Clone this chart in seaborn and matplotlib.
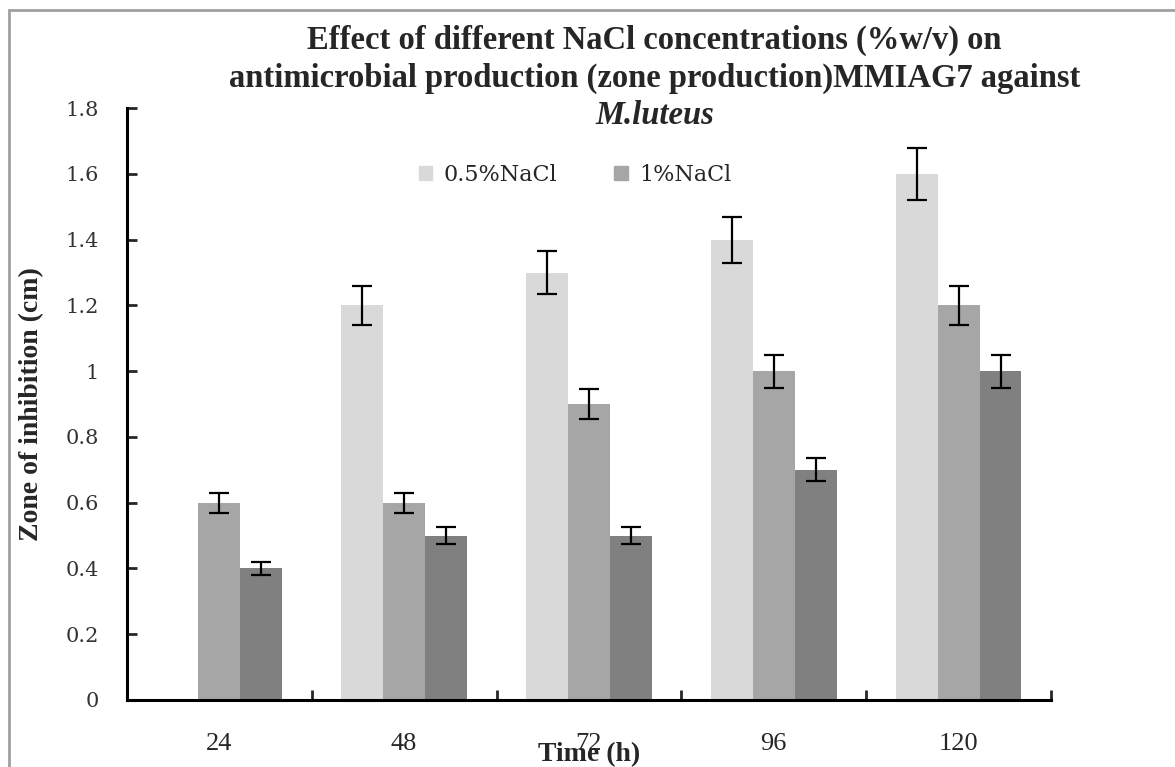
import numpy as np
import pandas as pd
import matplotlib
matplotlib.use("Agg")
import matplotlib.pyplot as plt
import matplotlib.patches as mpatches
import seaborn as sns

# valores
tiempos = ["24", "48", "72", "96", "120"]
series = ["0.5%NaCl", "1%NaCl", "serie 3"]
zona_05 = [0.0, 1.2, 1.3, 1.4, 1.6]
zona_1 = [0.6, 0.6, 0.9, 1.0, 1.2]
zona_3 = [0.4, 0.5, 0.5, 0.7, 1.0]
err_05 = [0.0, 0.06, 0.065, 0.07, 0.08]
err_1 = [0.03, 0.03, 0.045, 0.05, 0.06]
err_3 = [0.02, 0.025, 0.025, 0.035, 0.05]
colores = ["#D9D9D9", "#A6A6A6", "#808080"]

df = pd.DataFrame({
    "Time": tiempos * 3,
    "Zone": zona_05 + zona_1 + zona_3,
    "NaCl": [series[0]] * 5 + [series[1]] * 5 + [series[2]] * 5,
})
errores = [err_05, err_1, err_3]

sns.set_style("white")
plt.rcParams["font.family"] = ["Liberation Serif", "DejaVu Serif"]

fig = plt.figure(figsize=(11.75, 7.67), dpi=100)
ax = fig.add_axes([0.108, 0.0874, 0.7865, 0.7716])

sns.barplot(data=df, x="Time", y="Zone", hue="NaCl", order=tiempos, hue_order=series,
            palette=colores, width=0.68, errorbar=None, saturation=1, ax=ax, legend=False,
            linewidth=0, edgecolor="none")

for cont, errs in zip(ax.containers, errores):
    for barra, e in zip(cont, errs):
        if e > 0:
            xc = barra.get_x() + barra.get_width() / 2
            ax.errorbar(xc, barra.get_height(), yerr=e, color="black", lw=1.6,
                        capsize=7, capthick=1.6, fmt="none")

ax.set_ylim(0, 1.8)
ax.set_xlim(-0.5, 4.5)
ax.set_yticks(np.arange(0, 1.81, 0.2))
ax.set_yticklabels(["0", "0.2", "0.4", "0.6", "0.8", "1", "1.2", "1.4", "1.6", "1.8"],
                   fontfamily="DejaVu Serif", fontsize=15, color="#333333")
ax.tick_params(axis="y", direction="in", length=7, width=2, pad=20, left=True)

ax.set_xticks(np.arange(-0.5, 4.6, 1))
ax.set_xticklabels([""] * 6)
ax.tick_params(axis="x", which="major", direction="in", length=7, width=2, bottom=True)
ax.set_xticks(range(5), minor=True)
ax.set_xticklabels(tiempos, minor=True, fontsize=19)
ax.tick_params(axis="x", which="minor", length=0, pad=24)

for s in ["top", "right"]:
    ax.spines[s].set_visible(False)
for s in ["left", "bottom"]:
    ax.spines[s].set_linewidth(2.2)
    ax.spines[s].set_color("black")

ax.set_xlabel("Time (h)", fontsize=20, fontweight="bold")
ax.set_ylabel("Zone of inhibition (cm)", fontsize=20, fontweight="bold")
ax.xaxis.set_label_coords(0.5, -0.093)
ax.yaxis.set_label_coords(-0.103, 0.5)
ax.xaxis.label.set_va("center")
ax.yaxis.label.set_va("center")

# leyenda solo con las dos primeras series
handles = [mpatches.Patch(color=colores[0], label=series[0]),
           mpatches.Patch(color=colores[1], label=series[1])]
ax.legend(handles=handles, loc="upper left", bbox_to_anchor=(0.294, 0.94), ncol=2,
          frameon=False, handlelength=0.6, handleheight=0.6, columnspacing=2.6,
          handletextpad=0.5, prop={"family": "DejaVu Serif", "size": 16})

fig.text(0.557, 0.947, "Effect of different NaCl concentrations (%w/v) on",
         ha="center", va="center", fontsize=23.5, fontweight="bold")
fig.text(0.557, 0.898, "antimicrobial production (zone production)MMIAG7 against",
         ha="center", va="center", fontsize=23.5, fontweight="bold")
fig.text(0.557, 0.849, "M.luteus", ha="center", va="center", fontsize=23.5,
         fontweight="bold", fontstyle="italic")

marco = mpatches.Rectangle((9 / 1175, -0.1), 1.2, 1.1 - 10 / 767, transform=fig.transFigure,
                           fill=False, edgecolor="#A0A0A0", lw=2)
fig.patches.append(marco)

fig.savefig("out.png", dpi=100)
